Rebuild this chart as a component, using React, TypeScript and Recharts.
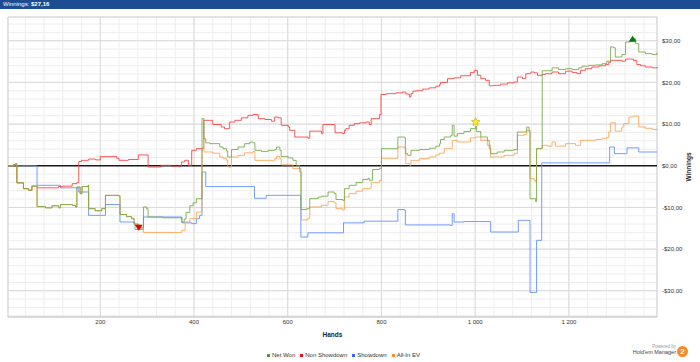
import React from "react";
import {
  LineChart,
  Line,
  XAxis,
  YAxis,
  CartesianGrid,
  ReferenceLine,
  ReferenceDot,
  ReferenceArea,
} from "recharts";

// [hand, winnings $] break points (step lines)
const netWon: [number, number][] = [
  [3, 0], [15, 0.3], [19, 0.5], [22, -4.1], [36, -5.5], [47, -5.9], [54, -4.9], [65, -9.8], [83, -10.1],
  [97, -9.6], [111, -10.1], [115, -9.3], [140, -9.5], [147, -9.9], [150, -5.1], [157, -6.7], [161, -5.0],
  [174, -4.7], [175, -10.3], [189, -10.8], [203, -10.3], [211, -7.1], [238, -7.2], [242, -11.7], [256, -12.2],
  [267, -12.7], [272, -14.0], [282, -14.9], [292, -9.9], [299, -10.3], [302, -12.3], [334, -12.5], [374, -13.5],
  [379, -12.8], [383, -11.2], [391, -9.6], [398, -8.9], [405, -7.9], [417, 11.3], [421, 6.5], [425, 5.5],
  [434, 5.3], [455, 4.5], [462, 4.1], [469, 3.5], [472, 2.1], [480, 3.9], [494, 4.5], [508, 5.3], [519, 5.7],
  [526, 5.5], [530, 3.7], [544, 3.4], [558, 3.7], [572, 3.9], [576, 4.5], [583, 3.7], [586, 2.2], [601, 1.9],
  [611, 1.3], [618, 0.1], [625, -0.7], [628, -10.5], [640, -10.3], [647, -7.9], [665, -7.5], [672, -7.3],
  [686, -6.3], [699, -6.7], [703, -8.1], [717, -8.3], [721, -5.5], [731, -4.7], [746, -4.0], [760, -3.3],
  [771, -3.0], [774, -3.5], [781, -0.9], [796, -0.6], [800, 4.1], [835, 6.9], [849, 6.7], [851, 2.9],
  [856, 2.5], [863, 3.7], [881, 3.9], [902, 4.2], [916, 4.7], [924, 5.3], [926, 6.3], [934, 6.9], [948, 7.3],
  [951, 9.7], [955, 7.1], [962, 7.7], [976, 8.2], [990, 8.9], [1001, 9.5], [1003, 8.2], [1012, 6.9],
  [1026, 6.1], [1030, 4.1], [1033, 2.9], [1047, 3.3], [1062, 3.7], [1083, 3.9], [1090, 8.1], [1110, 9.3],
  [1115, 8.5], [1117, -7.9], [1129, -8.6], [1131, 4.1], [1143, 22.8], [1164, 23.5], [1178, 23.1], [1193, 23.3],
  [1207, 23.1], [1221, 23.5], [1228, 23.9], [1242, 24.1], [1257, 24.2], [1271, 24.5], [1281, 25.1],
  [1289, 28.5], [1296, 28.3], [1299, 26.1], [1313, 26.7], [1321, 29.7], [1331, 29.8], [1336, 30.5],
  [1342, 29.3], [1349, 27.3], [1363, 26.9], [1378, 26.7], [1388, 27.16],
];

const nonShowdown: [number, number][] = [
  [3, 0], [22, -4.1], [36, -5.5], [47, -5.9], [54, -4.9], [65, -5.3], [111, -5.0], [120, -4.9], [140, -4.3],
  [150, -4.0], [154, 1.0], [160, 1.3], [175, 1.6], [190, 1.4], [200, 2.2], [235, 1.8], [240, 1.3], [260, 1.5],
  [281, 2.6], [302, -0.3], [330, 0.1], [350, -0.1], [373, 0.9], [380, 1.3], [388, 0.1], [395, 3.7], [405, 4.1],
  [421, 10.9], [440, 9.9], [458, 9.3], [465, 8.9], [476, 10.5], [487, 10.9], [501, 11.5], [515, 12.1],
  [526, 12.3], [537, 11.3], [551, 11.1], [565, 10.7], [572, 11.7], [579, 11.5], [586, 9.7], [601, 9.3],
  [604, 8.5], [615, 6.9], [643, 6.6], [647, 8.3], [672, 7.7], [675, 9.9], [699, 9.8], [701, 7.9], [717, 7.7],
  [721, 8.5], [724, 8.9], [731, 9.7], [742, 10.1], [753, 10.3], [767, 10.5], [774, 9.9], [778, 11.3],
  [796, 12.3], [799, 17.1], [810, 17.3], [831, 17.5], [845, 17.7], [852, 17.2], [860, 16.5], [863, 17.3],
  [867, 17.9], [874, 18.0], [888, 18.4], [902, 18.7], [916, 19.1], [924, 19.5], [926, 20.0], [941, 20.9],
  [955, 21.1], [969, 21.6], [990, 22.4], [998, 22.9], [1005, 21.7], [1012, 20.9], [1022, 20.5], [1030, 19.2],
  [1040, 19.3], [1054, 19.6], [1069, 19.9], [1083, 20.1], [1090, 21.3], [1101, 20.9], [1108, 22.1],
  [1119, 22.5], [1126, 22.3], [1133, 21.7], [1143, 21.9], [1150, 22.1], [1164, 22.5], [1178, 22.1],
  [1193, 22.7], [1207, 22.4], [1217, 22.1], [1225, 22.9], [1235, 23.3], [1249, 23.7], [1264, 24.0],
  [1278, 24.3], [1285, 24.8], [1289, 25.3], [1313, 25.1], [1321, 25.6], [1338, 25.3], [1345, 24.3],
  [1353, 24.0], [1363, 23.7], [1378, 23.5], [1388, 23.7],
];

const showdown: [number, number][] = [
  [3, 0], [65, -4.7], [111, -4.7], [115, -5.3], [154, -6.3], [175, -11.9], [211, -9.3], [242, -13.5],
  [270, -13.6], [274, -15.3], [292, -12.3], [374, -13.7], [395, -13.9], [405, -12.7], [412, -11.9],
  [417, -1.5], [425, -5.0], [529, -7.8], [554, -7.1], [628, -17.1], [643, -16.1], [719, -13.7], [763, -13.3],
  [835, -10.5], [849, -10.7], [851, -14.2], [947, -14.3], [951, -11.5], [955, -13.5], [976, -13.4],
  [1033, -15.9], [1092, -13.1], [1111, -13.1], [1117, -30.4], [1131, -17.9], [1142, 0.7], [1287, 4.5],
  [1297, 2.9], [1324, 4.3], [1349, 3.3], [1388, 3.3],
];

const allInEv: [number, number][] = [
  [3, 0], [15, 0.3], [19, 0.5], [22, -4.1], [36, -5.5], [47, -5.9], [54, -4.9], [65, -9.8], [83, -10.1],
  [97, -9.6], [111, -10.1], [115, -9.3], [140, -9.5], [147, -9.9], [150, -5.1], [157, -6.7], [161, -5.0],
  [174, -4.7], [175, -10.3], [189, -10.8], [203, -10.3], [211, -7.1], [238, -7.2], [242, -11.7], [256, -12.2],
  [267, -12.7], [272, -14.0], [282, -14.9], [292, -16.0], [374, -15.5], [381, -13.5], [391, -12.7],
  [405, -11.1], [417, 4.3], [421, 3.3], [440, 3.0], [455, 2.1], [462, 1.8], [469, 1.3], [472, -0.3], [480, 2.1],
  [494, 2.5], [508, 3.1], [526, 3.4], [530, 1.3], [572, 1.7], [576, 2.2], [583, 1.7], [586, 0.2], [611, -0.7],
  [625, -1.5], [629, -13.0], [643, -12.6], [647, -9.9], [672, -9.5], [686, -8.6], [699, -8.9], [703, -10.3],
  [717, -10.6], [721, -7.5], [731, -6.7], [746, -6.1], [760, -5.5], [774, -5.4], [778, -4.0], [796, -3.5],
  [800, 1.8], [835, 4.5], [849, 4.3], [852, 0.5], [860, 0.1], [863, 1.3], [881, 1.7], [902, 2.1], [916, 2.6],
  [924, 3.0], [934, 4.1], [951, 6.1], [962, 5.7], [990, 6.7], [1001, 6.9], [1012, 6.1], [1026, 4.9],
  [1033, 2.1], [1062, 2.5], [1083, 2.9], [1090, 7.3], [1104, 7.5], [1110, 8.5], [1115, 8.1], [1117, -3.1],
  [1126, -3.5], [1129, -3.9], [1131, 4.1], [1143, 4.9], [1154, 4.7], [1164, 5.7], [1171, 4.7], [1193, 5.3],
  [1214, 4.9], [1225, 6.1], [1257, 6.3], [1271, 6.6], [1281, 6.8], [1285, 8.1], [1289, 10.3], [1299, 8.3],
  [1313, 9.3], [1317, 10.1], [1328, 11.7], [1338, 11.9], [1349, 9.3], [1363, 9.0], [1378, 8.7], [1388, 8.9],
];

// special points: lowest, star, highest
const lowPoint = { hand: 282, value: -14.9 };
const starPoint = { hand: 1001, value: 10.5 };
const highPoint = { hand: 1336, value: 30.5 };

const handLabels = [200, 400, 600, 800, 1000, 1200];
const dollarLabels = [-30, -20, -10, 0, 10, 20, 30];

const series = [
  { key: "showdown", name: "Showdown", points: showdown, color: "#5b8cff", legend: "#3366ff" },
  { key: "nonShowdown", name: "Non Showdown", points: nonShowdown, color: "#ff3b3b", legend: "#ee1111" },
  { key: "allInEv", name: "All-In EV", points: allInEv, color: "#ffa150", legend: "#ff8c33" },
  { key: "netWon", name: "Net Won", points: netWon, color: "#74a845", legend: "#4c9a2a" },
];
const legendOrder = ["netWon", "nonShowdown", "showdown", "allInEv"];

const hands = Array.from(new Set(series.flatMap((s) => s.points.map((p) => p[0])))).sort((a, b) => a - b);
const lookups = series.map((s) => new Map(s.points));
const table = hands.map((h) => {
  const row: Record<string, number | undefined> = { hand: h };
  series.forEach((s, i) => {
    row[s.key] = lookups[i].get(h);
  });
  return row;
});

const handTicks = Array.from({ length: 34 }, (_, i) => (i + 1) * 40);
const dollarTicks = Array.from({ length: 36 }, (_, i) => -36 + i * 2);

const FONT = "'Liberation Sans', Arial, sans-serif";

const fmtHand = (v: number) => {
  if (!handLabels.includes(v)) return "";
  if (v >= 1000) return `${Math.floor(v / 1000)} ${String(v % 1000).padStart(3, "0")}`;
  return String(v);
};
const fmtDollar = (v: number) => {
  if (!dollarLabels.includes(v)) return "";
  return `${v < 0 ? "-" : ""}$${Math.abs(v)},00`;
};

const triangle = (down: boolean, fill: string) => (props: any) => {
  const { cx, cy } = props;
  const pts = down
    ? `${cx - 4},${cy - 3} ${cx + 4},${cy - 3} ${cx},${cy + 3}`
    : `${cx - 4},${cy + 3} ${cx + 4},${cy + 3} ${cx},${cy - 3}`;
  return <polygon points={pts} fill={fill} />;
};

const star = (props: any) => {
  const { cx, cy } = props;
  const pts: string[] = [];
  for (let i = 0; i < 10; i++) {
    const r = i % 2 === 0 ? 4.5 : 2;
    const a = -Math.PI / 2 + (i * Math.PI) / 5;
    pts.push(`${cx + r * Math.cos(a)},${cy + r * Math.sin(a)}`);
  }
  return <polygon points={pts.join(" ")} fill="#ffee22" stroke="#c8a800" strokeWidth={0.6} />;
};

export default function App() {
  return (
    <div style={{ position: "relative", width: 700, height: 362, fontFamily: FONT, background: "#fff", overflow: "hidden" }}>
      <style>{"body{margin:0}"}</style>
      <div
        style={{
          position: "absolute",
          top: 0,
          left: 0,
          width: 700,
          height: 9,
          background: "#1c4c91",
          color: "#fff",
          fontSize: 6,
          lineHeight: "9px",
          paddingLeft: 3,
          boxSizing: "border-box",
        }}
      >
        Winnings: <b>$27,16</b>
      </div>

      <LineChart width={700} height={362} data={table} margin={{ top: 17, right: 0, bottom: 23, left: 8 }}>
        <ReferenceArea x1={3} x2={1388} y1={-36.3} y2={35.7} fill="none" stroke="#cfcfcf" strokeWidth={1} />
        <CartesianGrid stroke="#ededed" strokeWidth={1} />
        {handLabels.map((h) => (
          <ReferenceLine key={"x" + h} x={h} stroke="#d9d9d9" strokeWidth={1} />
        ))}
        {dollarLabels
          .filter((v) => v !== 0)
          .map((v) => (
            <ReferenceLine key={"y" + v} y={v} stroke="#d9d9d9" strokeWidth={1} />
          ))}
        <XAxis
          type="number"
          dataKey="hand"
          domain={[3, 1388]}
          ticks={handTicks}
          interval={0}
          tickFormatter={fmtHand}
          tickLine={false}
          tickSize={0}
          tickMargin={3}
          axisLine={{ stroke: "#cfcfcf" }}
          height={22}
          tick={{ fontSize: 6, fill: "#333", fontFamily: FONT }}
          label={{ value: "Hands", position: "insideBottom", offset: 2, fontSize: 6.5, fontWeight: "bold", fill: "#222", fontFamily: FONT }}
        />
        <YAxis
          type="number"
          orientation="right"
          domain={[-36.3, 35.7]}
          ticks={dollarTicks}
          interval={0}
          allowDataOverflow
          tickFormatter={fmtDollar}
          tickLine={false}
          tickSize={0}
          tickMargin={5}
          axisLine={false}
          width={43}
          tick={{ fontSize: 6, fill: "#333", fontFamily: FONT }}
          label={{
            content: (p: any) => {
              const vb = p.viewBox || { x: 657, y: 17, width: 43, height: 300 };
              const x = vb.x + vb.width - 12;
              const y = vb.y + vb.height / 2;
              return (
                <text
                  x={x}
                  y={y}
                  transform={`rotate(-90 ${x} ${y})`}
                  textAnchor="middle"
                  dominantBaseline="central"
                  fontSize={6.5}
                  fontWeight="bold"
                  fill="#222"
                  fontFamily={FONT}
                >
                  Winnings
                </text>
              );
            },
          }}
        />
        <ReferenceLine y={0} stroke="#1a1a1a" strokeWidth={1.6} />
        {series.map((s) => (
          <Line
            key={s.key}
            dataKey={s.key}
            name={s.name}
            type="stepAfter"
            stroke={s.color}
            strokeWidth={1}
            strokeOpacity={0.85}
            dot={false}
            activeDot={false}
            connectNulls
            isAnimationActive={false}
          />
        ))}
        <ReferenceDot x={lowPoint.hand} y={lowPoint.value} r={4} shape={triangle(true, "#e00000")} />
        <ReferenceDot x={starPoint.hand} y={starPoint.value} r={4} shape={star} />
        <ReferenceDot x={highPoint.hand} y={highPoint.value} r={4} shape={triangle(false, "#0a7a0a")} />
      </LineChart>

      <div
        style={{
          position: "absolute",
          top: 352,
          left: 267,
          display: "flex",
          alignItems: "center",
          fontSize: 6,
          lineHeight: "7px",
          color: "#333",
          whiteSpace: "nowrap",
        }}
      >
        {legendOrder.map((k) => {
          const s = series.find((x) => x.key === k)!;
          return (
            <span key={k} style={{ display: "flex", alignItems: "center", marginRight: 5 }}>
              <span style={{ width: 3, height: 3, background: s.legend, marginRight: 2, display: "inline-block" }} />
              {s.name}
            </span>
          );
        })}
      </div>

      <div style={{ position: "absolute", top: 344, left: 626, width: 50, textAlign: "right", color: "#444" }}>
        <div style={{ fontSize: 4.5, lineHeight: "5px", color: "#999" }}>Powered by</div>
        <div style={{ fontSize: 5.5, lineHeight: "7px" }}>Hold'em Manager</div>
      </div>
      <div
        style={{
          position: "absolute",
          top: 346,
          left: 677,
          width: 11,
          height: 11,
          borderRadius: "50%",
          background: "#f28c2e",
          color: "#fff",
          fontSize: 8,
          fontWeight: "bold",
          lineHeight: "11px",
          textAlign: "center",
        }}
      >
        2
      </div>
    </div>
  );
}
